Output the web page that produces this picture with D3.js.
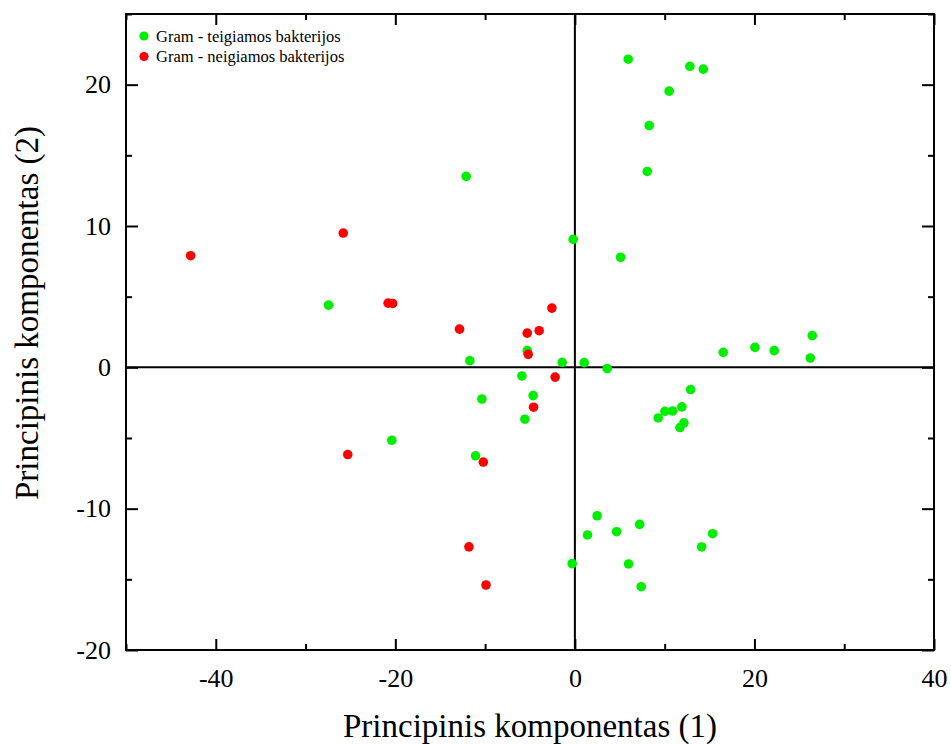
<!DOCTYPE html>
<html>
<head>
<meta charset="utf-8">
<script src="https://cdn.jsdelivr.net/npm/d3@7"></script>
<style>
  body { margin: 0; background: #fff; }
  svg, svg text { font-family: "Liberation Serif", "Times New Roman", serif; }
</style>
</head>
<body>
<div id="chart"></div>
<script>
// Gram-positive (green) points: PC1, PC2
const gramPosX = [5.94, 12.81, 14.3, 10.5, 8.28, 8.06, -12.11, -0.19, 5.09, -27.44,
  -5.31, -11.7, -1.42, 1.04, 3.6, -5.9, -4.65, -10.36, -5.57, -11.06,
  -20.39, 16.52, 20.06, 22.2, 26.44, 26.22, 12.89, 11.92, 10.89, 10.03,
  9.28, 12.14, 11.7, 2.48, 1.41, 4.65, 7.21, 15.34, 14.12, -0.3,
  5.98, 7.39]
const gramPosY = [21.8, 21.3, 21.1, 19.54, 17.11, 13.86, 13.51, 9.06, 7.79, 4.4,
  1.18, 0.47, 0.35, 0.33, -0.09, -0.61, -2.0, -2.24, -3.67, -6.26,
  -5.16, 1.06, 1.41, 1.18, 2.24, 0.66, -1.57, -2.8, -3.09, -3.11,
  -3.58, -3.93, -4.26, -10.5, -11.86, -11.63, -11.11, -11.77, -12.71, -13.89,
  -13.91, -15.52]

// Gram-negative (red) points
const gramNegX = [-42.8, -25.8, -20.8, -20.3, -12.85, -2.56, -5.31, -3.98, -5.2, -2.2,
  -4.6, -10.2, -25.3, -11.8, -9.9]
const gramNegY = [7.9, 9.5, 4.54, 4.52, 2.7, 4.19, 2.42, 2.59, 0.92, -0.69,
  -2.82, -6.7, -6.17, -12.7, -15.4]

const seriesNames = ['Gram - teigiamos bakterijos', 'Gram - neigiamos bakterijos']
const seriesColors = ['#00ee00', '#ff0000']

const xTicks = [-40, -20, 0, 20, 40]
const xMinorTicks = [-50, -30, -10, 10, 30]
const yTicks = [-20, -10, 0, 10, 20]
const yMinorTicks = [-15, -5, 5, 15, 25]

const margin = { top: 14, right: 17, bottom: 94, left: 126 }
const W = 951, H = 744
const width = W - margin.left - margin.right
const height = H - margin.top - margin.bottom

const svg = d3.select('#chart')
  .append('svg')
    .attr('width', W)
    .attr('height', H)
  .append('g')
    .attr('transform', `translate(${margin.left},${margin.top})`)

const x = d3.scaleLinear().domain([-50, 40]).range([0, width])
const y = d3.scaleLinear().domain([-20, 25]).range([height, 0])

const fmt = (d) => String(d)   // plain hyphen minus, as in the original

// zero lines
svg.append('line')
  .attr('x1', 0).attr('x2', width)
  .attr('y1', y(0)).attr('y2', y(0))
  .attr('stroke', '#000').attr('stroke-width', 2)
svg.append('line')
  .attr('x1', x(0)).attr('x2', x(0))
  .attr('y1', 0).attr('y2', height)
  .attr('stroke', '#000').attr('stroke-width', 2)

// axes with inward ticks, on all four sides
const styleAxis = (g) => {
  g.attr('font-family', null).attr('font-size', null)
  g.select('.domain').remove()
  g.selectAll('line').attr('stroke', '#000').attr('stroke-width', 2)
  g.selectAll('text')
    .attr('font-size', 26)
    .attr('font-family', '"Liberation Serif", "Times New Roman", serif')
    .attr('fill', '#000')
}

svg.append('g')
  .attr('transform', `translate(0,${height})`)
  .call(d3.axisBottom(x).tickValues(xTicks).tickSize(-11).tickPadding(19).tickFormat(fmt))
  .call(styleAxis)
svg.append('g')
  .attr('transform', `translate(0,${height})`)
  .call(d3.axisBottom(x).tickValues(xMinorTicks).tickSize(-6).tickFormat(''))
  .call(styleAxis)
svg.append('g')
  .call(d3.axisTop(x).tickValues(xTicks).tickSize(-11).tickFormat(''))
  .call(styleAxis)
svg.append('g')
  .call(d3.axisTop(x).tickValues(xMinorTicks).tickSize(-6).tickFormat(''))
  .call(styleAxis)

svg.append('g')
  .call(d3.axisLeft(y).tickValues(yTicks).tickSize(-12).tickPadding(15).tickFormat(fmt))
  .call(styleAxis)
svg.append('g')
  .call(d3.axisLeft(y).tickValues(yMinorTicks).tickSize(-6).tickFormat(''))
  .call(styleAxis)
svg.append('g')
  .attr('transform', `translate(${width},0)`)
  .call(d3.axisRight(y).tickValues(yTicks).tickSize(-12).tickFormat(''))
  .call(styleAxis)
svg.append('g')
  .attr('transform', `translate(${width},0)`)
  .call(d3.axisRight(y).tickValues(yMinorTicks).tickSize(-6).tickFormat(''))
  .call(styleAxis)

// frame
svg.append('rect')
  .attr('width', width).attr('height', height)
  .attr('fill', 'none').attr('stroke', '#000').attr('stroke-width', 2)

// points
const drawPoints = (xs, ys, color) => {
  svg.append('g')
    .selectAll('circle')
    .data(xs.map((d, i) => ({ x: d, y: ys[i] })))
    .enter()
    .append('circle')
      .attr('cx', (d) => x(d.x))
      .attr('cy', (d) => y(d.y))
      .attr('r', 4.8)
      .attr('fill', color)
}
drawPoints(gramPosX, gramPosY, seriesColors[0])
drawPoints(gramNegX, gramNegY, seriesColors[1])

// legend
const legend = svg.append('g').attr('transform', 'translate(18,22)')
seriesNames.forEach((name, i) => {
  const row = legend.append('g').attr('transform', `translate(0,${i * 20.5})`)
  row.append('circle').attr('r', 4.6).attr('fill', seriesColors[i])
  row.append('text')
    .attr('x', 12).attr('y', 5.5)
    .attr('font-size', 16.5)
    .text(name)
})

// axis titles
svg.append('text')
  .attr('x', width / 2)
  .attr('y', height + 87)
  .attr('text-anchor', 'middle')
  .attr('font-size', 33)
  .text('Principinis komponentas (1)')

svg.append('text')
  .attr('transform', `translate(${38 - margin.left},${313 - margin.top}) rotate(-90)`)
  .attr('text-anchor', 'middle')
  .attr('font-size', 33)
  .text('Principinis komponentas (2)')
</script>
</body>
</html>
